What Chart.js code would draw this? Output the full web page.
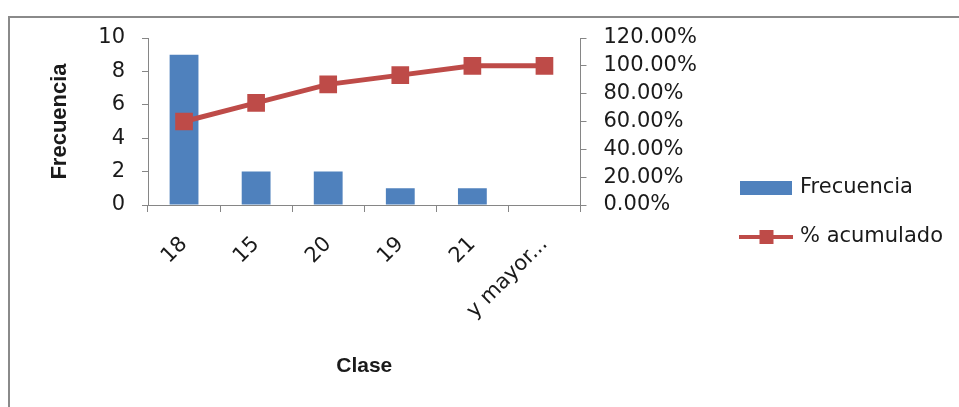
<!DOCTYPE html>
<html>
<head>
<meta charset="utf-8">
<script src="https://cdn.jsdelivr.net/npm/chart.js@4"></script>
<style>
  html, body { margin: 0; padding: 0; background: #fff; overflow: hidden; }
  #frame { position: absolute; left: 8px; top: 16px; width: 1000px; height: 500px;
           border-left: 2px solid #8a8a8a; border-top: 2px solid #8a8a8a; }
  #wrap { position: absolute; left: 0; top: 0; width: 959px; height: 407px; }
</style>
</head>
<body>
<div id="frame"></div>
<div id="wrap"><canvas id="chart"></canvas></div>
<script>
const clases = ['18', '15', '20', '19', '21', 'y mayor...'];
const frecuencia = [9, 2, 2, 1, 1, 0];
const acumulado = [0.60, 0.7333, 0.8667, 0.9333, 1.0, 1.0];
const freqTicks = { min: 0, max: 10, step: 2 };
const pctTicks = { min: 0, max: 1.2, step: 0.2 };

const blue = '#4F81BD';
const red = '#BE4B48';
const axisGray = '#868686';
const textColor = '#1a1a1a';

Chart.defaults.font.family = "'DejaVu Sans', sans-serif";

function makeIcon(w, h, draw) {
  const c = document.createElement('canvas');
  c.width = w;
  c.height = h;
  draw(c.getContext('2d'));
  return c;
}

const barIcon = makeIcon(52, 14, ctx => {
  ctx.fillStyle = blue;
  ctx.fillRect(0, 0, 52, 14);
});

const lineIcon = makeIcon(54, 16, ctx => {
  ctx.strokeStyle = red;
  ctx.lineWidth = 4;
  ctx.beginPath();
  ctx.moveTo(0, 8);
  ctx.lineTo(54, 8);
  ctx.stroke();
  ctx.fillStyle = red;
  ctx.fillRect(20, 1, 14, 14);
});

new Chart(document.getElementById('chart'), {
  data: {
    labels: clases,
    datasets: [
      {
        type: 'bar',
        label: 'Frecuencia',
        data: frecuencia,
        backgroundColor: blue,
        barPercentage: 0.4,
        categoryPercentage: 1,
        yAxisID: 'y',
        order: 1
      },
      {
        type: 'line',
        label: '% acumulado',
        data: acumulado,
        borderColor: red,
        borderWidth: 5,
        pointStyle: 'rect',
        pointRadius: 12.5,
        pointBackgroundColor: red,
        pointBorderColor: red,
        pointBorderWidth: 0,
        tension: 0,
        yAxisID: 'y1',
        order: 0
      }
    ]
  },
  options: {
    responsive: true,
    maintainAspectRatio: false,
    animation: false,
    events: [],
    layout: { padding: { top: 38, right: 6, bottom: 20, left: 0 } },
    plugins: {
      tooltip: { enabled: false },
      legend: {
        position: 'right',
        maxWidth: 300,
        labels: {
          font: { size: 21 },
          color: textColor,
          usePointStyle: true,
          pointStyleWidth: 46,
          padding: 28,
          generateLabels: chart => chart.data.datasets.map((ds, i) => ({
            text: ds.label,
            pointStyle: i === 0 ? barIcon : lineIcon,
            fillStyle: 'transparent',
            strokeStyle: 'transparent',
            lineWidth: 0,
            fontColor: textColor,
            hidden: false,
            datasetIndex: i
          }))
        }
      }
    },
    scales: {
      x: {
        offset: true,
        grid: { offset: true, drawOnChartArea: false, tickLength: 7, color: axisGray },
        border: { color: axisGray },
        ticks: { minRotation: 45, maxRotation: 45, autoSkip: false, font: { size: 21 }, color: textColor, padding: 20 },
        title: { display: true, text: 'Clase', color: textColor,
                 font: { family: "'Liberation Sans', sans-serif", size: 21, weight: 'bold' },
                 padding: { top: 0, bottom: 8 } },
        afterFit: s => { s.height = 182; }
      },
      y: {
        position: 'left',
        min: freqTicks.min,
        max: freqTicks.max,
        grid: { drawOnChartArea: false, tickLength: 6, color: axisGray },
        border: { color: axisGray },
        ticks: { stepSize: freqTicks.step, autoSkip: false, font: { size: 21 }, color: textColor, padding: 17 },
        title: { display: true, text: 'Frecuencia', color: textColor,
                 font: { family: "'Liberation Sans', sans-serif", size: 22, weight: 'bold' },
                 padding: { top: 47, bottom: 0 } },
        afterFit: s => { s.width = 148; }
      },
      y1: {
        position: 'right',
        min: pctTicks.min,
        max: pctTicks.max,
        grid: { drawOnChartArea: false, tickLength: 6, color: axisGray },
        border: { color: axisGray },
        ticks: {
          stepSize: pctTicks.step,
          autoSkip: false,
          font: { size: 21 },
          color: textColor,
          padding: 17,
          callback: v => (v * 100).toFixed(2) + '%'
        },
        afterFit: s => { s.width = 135; }
      }
    }
  }
});
</script>
</body>
</html>
